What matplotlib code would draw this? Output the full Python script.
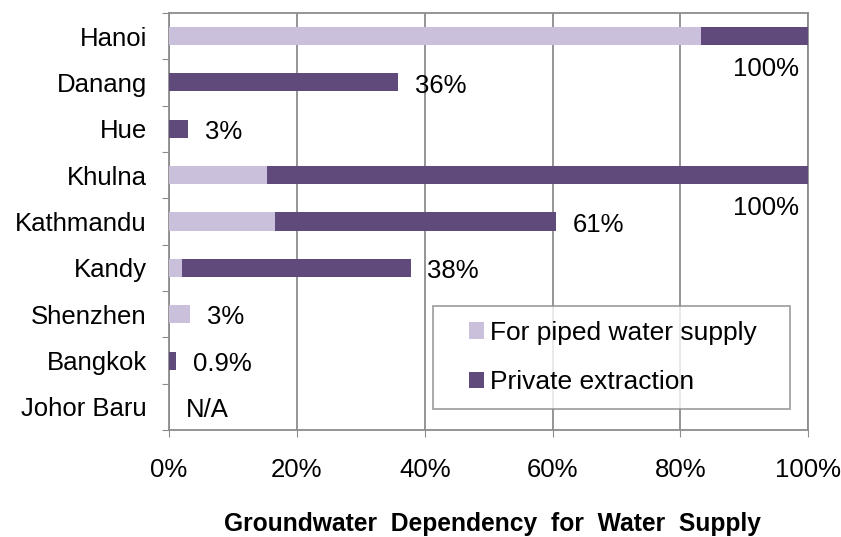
import matplotlib.pyplot as plt
from matplotlib.container import BarContainer
from matplotlib.legend_handler import HandlerPatch
from matplotlib.patches import Rectangle
import numpy as np

plt.rcParams['font.family'] = ['Liberation Sans', 'DejaVu Sans']

cities = ["Hanoi", "Danang", "Hue", "Khulna", "Kathmandu", "Kandy",
          "Shenzhen", "Bangkok", "Johor Baru"]
piped = [83.2, 0, 0, 15.3, 16.5, 2.0, 3.3, 0, 0]
private = [16.8, 35.9, 3.0, 84.7, 44.1, 35.8, 0, 1.1, 0]
labels = ["100%", "36%", "3%", "100%", "61%", "38%", "3%", "0.9%", "N/A"]

light = "#CBC0DC"
dark = "#604A7B"
grid_c = "#8C8C8C"
fs = 18.5


def small_square(legend, orig_handle, xdescent, ydescent, width, height, fontsize):
    # square sits at the right end of the handle box, like Excel's legend keys
    w = 10.8
    return Rectangle((width - w - xdescent, -ydescent), w, height)


def copy_bar_style(legend_patch, container):
    legend_patch.update_from(container.patches[0])


fig = plt.figure(figsize=(8.41, 5.37), dpi=100)
ax = fig.add_axes([0.201, 0.199, 0.76, 0.777])

y = np.arange(len(cities))
piped = np.array(piped)
private = np.array(private)
ax.barh(y, piped, height=0.39, color=light, label="For piped water supply", zorder=3)
ax.barh(y, private, left=piped, height=0.39, color=dark, label="Private extraction", zorder=3)

total = piped + private
for i, txt in enumerate(labels):
    if txt == "100%":
        ax.text(98.5, i + 0.7, txt, ha="right", va="center", fontsize=fs)
    else:
        ax.text(total[i] + 2.6, i + 0.07, txt, ha="left", va="center", fontsize=fs)

ax.set_xlim(0, 100)
ax.set_ylim(len(cities) - 0.5, -0.5)
ax.set_xticks(np.arange(0, 101, 20))
ax.set_xticklabels(["%d%%" % v for v in range(0, 101, 20)], fontsize=fs)
ax.tick_params(axis="x", direction="out", length=5, color=grid_c, pad=15)

# category labels on minor ticks, tick marks between categories
ax.set_yticks(np.arange(-0.5, len(cities), 1))
ax.set_yticklabels([])
ax.set_yticks(y, minor=True)
ax.set_yticklabels(cities, minor=True, fontsize=fs)
ax.tick_params(axis="y", which="major", direction="out", length=5, color=grid_c)
ax.tick_params(axis="y", which="minor", length=0, pad=16)

ax.grid(axis="x", color=grid_c, linewidth=1.3, zorder=0)
for s in ax.spines.values():
    s.set_color(grid_c)
    s.set_linewidth(1.3)

handler = HandlerPatch(patch_func=small_square, update_func=copy_bar_style)
leg = ax.legend(loc="lower left", bbox_to_anchor=(0.413, 0.05, 0.559, 0.2),
                mode="expand", fontsize=19,
                frameon=True, fancybox=False, edgecolor=grid_c,
                handler_map={BarContainer: handler},
                handlelength=1.36, handleheight=0.6, handletextpad=0.23,
                labelspacing=0.95, borderpad=0.57, borderaxespad=0)
leg.get_frame().set_linewidth(1.3)
leg.set_zorder(5)

fig.text(0.586, 6.0 / 537, "Groundwater  Dependency  for  Water  Supply",
         ha="center", va="baseline", fontsize=17.7, fontweight="bold")

fig.savefig("out.png", dpi=100)
